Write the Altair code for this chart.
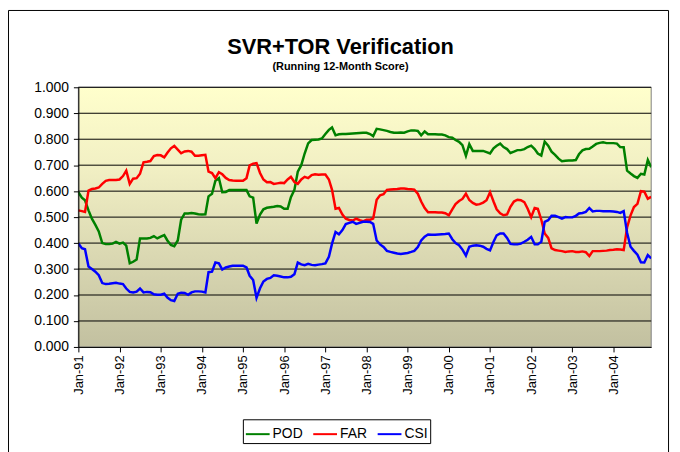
import altair as alt
import pandas as pd

# ---------------- data ----------------
series_names = ["POD", "FAR", "CSI"]
series_colors = ["#008000", "#FF0000", "#0000FF"]
years = list(range(1991, 2005))
y_ticks = [0.0, 0.1, 0.2, 0.3, 0.4, 0.5, 0.6, 0.7, 0.8, 0.9, 1.0]

pod = [
    0.596, 0.575, 0.565, 0.526, 0.494, 0.470, 0.445, 0.400, 0.396, 0.396, 0.398, 0.405,
    0.398, 0.402, 0.390, 0.322, 0.328, 0.337, 0.418, 0.418, 0.418, 0.420, 0.427, 0.418,
    0.425, 0.431, 0.410, 0.393, 0.388, 0.410, 0.490, 0.514, 0.514, 0.516, 0.514, 0.511,
    0.510, 0.511, 0.580, 0.590, 0.640, 0.650, 0.596, 0.597, 0.604, 0.604, 0.604, 0.604,
    0.604, 0.604, 0.580, 0.575, 0.475, 0.510, 0.530, 0.536, 0.538, 0.540, 0.543, 0.541,
    0.532, 0.532, 0.577, 0.605, 0.675, 0.700, 0.745, 0.784, 0.797, 0.798, 0.799, 0.803,
    0.820, 0.836, 0.845, 0.815, 0.819, 0.820, 0.820, 0.821, 0.822, 0.823, 0.824, 0.825,
    0.825, 0.820, 0.812, 0.840, 0.838, 0.835, 0.832, 0.828, 0.825, 0.825, 0.826, 0.825,
    0.830, 0.834, 0.834, 0.832, 0.815, 0.830, 0.819, 0.819, 0.819, 0.818, 0.818, 0.815,
    0.808, 0.806, 0.797, 0.790, 0.777, 0.736, 0.781, 0.755, 0.755, 0.755, 0.755, 0.750,
    0.745, 0.765, 0.775, 0.783, 0.770, 0.762, 0.747, 0.752, 0.758, 0.758, 0.762, 0.770,
    0.775, 0.762, 0.745, 0.737, 0.791, 0.775, 0.752, 0.740, 0.725, 0.715, 0.717, 0.718,
    0.718, 0.720, 0.742, 0.757, 0.762, 0.763, 0.772, 0.782, 0.786, 0.788, 0.785, 0.785,
    0.785, 0.783, 0.770, 0.769, 0.679, 0.668, 0.658, 0.651, 0.667, 0.664, 0.720, 0.692,
]

far = [
    0.526, 0.523, 0.520, 0.602, 0.608, 0.610, 0.614, 0.628, 0.640, 0.643, 0.643, 0.643,
    0.645, 0.658, 0.679, 0.628, 0.648, 0.650, 0.667, 0.711, 0.713, 0.716, 0.735, 0.739,
    0.738, 0.730, 0.748, 0.765, 0.774, 0.760, 0.746, 0.753, 0.755, 0.752, 0.736, 0.736,
    0.738, 0.740, 0.675, 0.670, 0.650, 0.673, 0.665, 0.651, 0.643, 0.641, 0.640, 0.640,
    0.640, 0.650, 0.699, 0.706, 0.708, 0.670, 0.645, 0.634, 0.635, 0.628, 0.630, 0.632,
    0.631, 0.645, 0.655, 0.635, 0.628, 0.645, 0.655, 0.650, 0.662, 0.665, 0.663, 0.664,
    0.664, 0.645, 0.605, 0.532, 0.535, 0.510, 0.494, 0.489, 0.487, 0.494, 0.488, 0.484,
    0.490, 0.490, 0.494, 0.567, 0.584, 0.588, 0.605, 0.606, 0.607, 0.608, 0.610, 0.610,
    0.608, 0.607, 0.606, 0.590, 0.560, 0.535, 0.519, 0.519, 0.519, 0.518, 0.518, 0.515,
    0.507, 0.530, 0.550, 0.562, 0.570, 0.590, 0.566, 0.555, 0.548, 0.550, 0.556, 0.565,
    0.596, 0.560, 0.530, 0.515, 0.507, 0.510, 0.540, 0.560, 0.567, 0.565, 0.558, 0.532,
    0.500, 0.535, 0.532, 0.490, 0.437, 0.420, 0.380, 0.373, 0.371, 0.369, 0.366, 0.368,
    0.369, 0.366, 0.366, 0.368, 0.365, 0.350, 0.369, 0.369, 0.369, 0.370, 0.371, 0.373,
    0.374, 0.376, 0.375, 0.373, 0.460, 0.507, 0.539, 0.551, 0.600, 0.598, 0.571, 0.578,
]

csi = [
    0.399, 0.380, 0.376, 0.310, 0.300, 0.290, 0.276, 0.246, 0.242, 0.243, 0.245, 0.247,
    0.244, 0.242, 0.225, 0.212, 0.210, 0.213, 0.225, 0.210, 0.212, 0.211, 0.203, 0.201,
    0.201, 0.205, 0.190, 0.180, 0.177, 0.205, 0.209, 0.208, 0.201, 0.210, 0.214, 0.214,
    0.213, 0.210, 0.288, 0.290, 0.325, 0.322, 0.298, 0.306, 0.310, 0.313, 0.313, 0.313,
    0.313, 0.306, 0.274, 0.258, 0.189, 0.226, 0.252, 0.262, 0.266, 0.276, 0.274, 0.271,
    0.268, 0.268, 0.270, 0.280, 0.325, 0.318, 0.315, 0.320, 0.316, 0.315, 0.317, 0.319,
    0.322, 0.347, 0.398, 0.443, 0.434, 0.450, 0.473, 0.478, 0.482, 0.474, 0.478, 0.482,
    0.482, 0.481, 0.474, 0.410, 0.395, 0.385, 0.370, 0.366, 0.363, 0.360, 0.358, 0.360,
    0.362, 0.366, 0.370, 0.385, 0.410, 0.425, 0.433, 0.432, 0.432, 0.433, 0.434, 0.435,
    0.437, 0.415, 0.400, 0.392, 0.375, 0.352, 0.386, 0.390, 0.392, 0.390, 0.386, 0.378,
    0.372, 0.405, 0.430, 0.437, 0.437, 0.420, 0.397, 0.395, 0.395, 0.398, 0.405, 0.413,
    0.424, 0.395, 0.395, 0.405, 0.482, 0.488, 0.505, 0.505, 0.500, 0.494, 0.500, 0.499,
    0.499, 0.505, 0.514, 0.516, 0.520, 0.535, 0.522, 0.524, 0.524, 0.523, 0.523, 0.523,
    0.522, 0.520, 0.516, 0.523, 0.440, 0.386, 0.370, 0.355, 0.326, 0.325, 0.354, 0.341,
]

title_text = "SVR+TOR Verification"
subtitle_text = "(Running 12-Month Score)"

# ---------------- build tables ----------------
months = pd.date_range("1991-01-01", periods=len(pod), freq="MS")
month_str = [d.strftime("%Y-%m-%dT00:00:00") for d in months]
rows = []
for name, vals in zip(series_names, [pod, far, csi]):
    for d, v in zip(month_str, vals):
        rows.append({"date": d, "series": name, "value": v})
df = pd.DataFrame(rows)

W, H = 578, 262
FONT = "Liberation Sans"

y_scale = alt.Scale(domain=[0, 1], nice=False, zero=False)
x_scale = alt.Scale(domain=[alt.DateTime(year=1991, month=1, date=1),
                            alt.DateTime(year=2004, month=12, date=1)], nice=False)

y_axis = alt.Axis(values=y_ticks, format=".3f", labelFontSize=14,
                  labelPadding=5, tickSize=5, grid=False, zindex=1,
                  domainColor="black", tickColor="black", title=None)

one = pd.DataFrame({"k": [0]})

# plot background gradient
bg = alt.Chart(one).mark_rect(
    fill=alt.Gradient(
        gradient="linear",
        stops=[alt.GradientStop(color="#FFFFCC", offset=0),
               alt.GradientStop(color="#F2F0C4", offset=0.3),
               alt.GradientStop(color="#C2C0A0", offset=1)],
        x1=0, x2=0, y1=0, y2=1,
    ),
    stroke="#808080", strokeWidth=1,
).encode(x=alt.value(0), x2=alt.value(W), y=alt.value(0), y2=alt.value(H))

grid = alt.Chart(pd.DataFrame({"value": y_ticks[1:]})).mark_rule(
    color="black", strokeWidth=1
).encode(y=alt.Y("value:Q", scale=y_scale, axis=y_axis, title=None))

lines = alt.Chart(df).mark_line(strokeWidth=2.5, clip=True).encode(
    x=alt.X("date:T", scale=x_scale, title=None,
            axis=alt.Axis(values=[alt.DateTime(year=y, month=1, date=1) for y in years],
                          format="%b-%y", labelAngle=270, labelFontSize=13,
                          labelPadding=3, tickSize=5, grid=False, zindex=1,
                          domainColor="black", tickColor="black")),
    y=alt.Y("value:Q", scale=y_scale, title=None, axis=y_axis),
    color=alt.Color("series:N",
                    scale=alt.Scale(domain=series_names, range=series_colors),
                    legend=alt.Legend(orient="none", legendX=166, legendY=335,
                                      direction="horizontal", title=None,
                                      strokeColor="black", fillColor="white",
                                      padding=2, symbolType="stroke",
                                      symbolStrokeWidth=2, symbolSize=576,
                                      labelFontSize=14, labelFont=FONT,
                                      labelColor="black", labelOffset=2,
                                      columnPadding=6)),
    detail="series:N",
)

frame = alt.Chart(one).mark_rect(
    fillOpacity=0, stroke="black", strokeWidth=1, clip=False
).encode(x=alt.value(-70.5), x2=alt.value(595.5),
         y=alt.value(-77.5), y2=alt.value(420))

title = alt.Chart(pd.DataFrame({"t": [title_text]})).mark_text(
    font=FONT, fontSize=22, fontWeight="bold", color="black",
    align="center", baseline="alphabetic"
).encode(text="t:N", x=alt.value(264.5), y=alt.value(-34))

subtitle = alt.Chart(pd.DataFrame({"t": [subtitle_text]})).mark_text(
    font=FONT, fontSize=11, fontWeight="bold", color="black",
    align="center", baseline="alphabetic"
).encode(text="t:N", x=alt.value(264.5), y=alt.value(-17))

chart = alt.layer(bg, grid, lines, frame, title, subtitle).properties(
    width=W, height=H,
    autosize=alt.AutoSizeParams(type="none"),
    padding={"left": 71, "top": 78, "right": 21, "bottom": 104},
    background="white",
).configure_axis(
    labelFont=FONT, labelColor="black"
).configure_view(stroke=None)

chart.save("out.html", embed_options={"renderer": "svg", "actions": False})
